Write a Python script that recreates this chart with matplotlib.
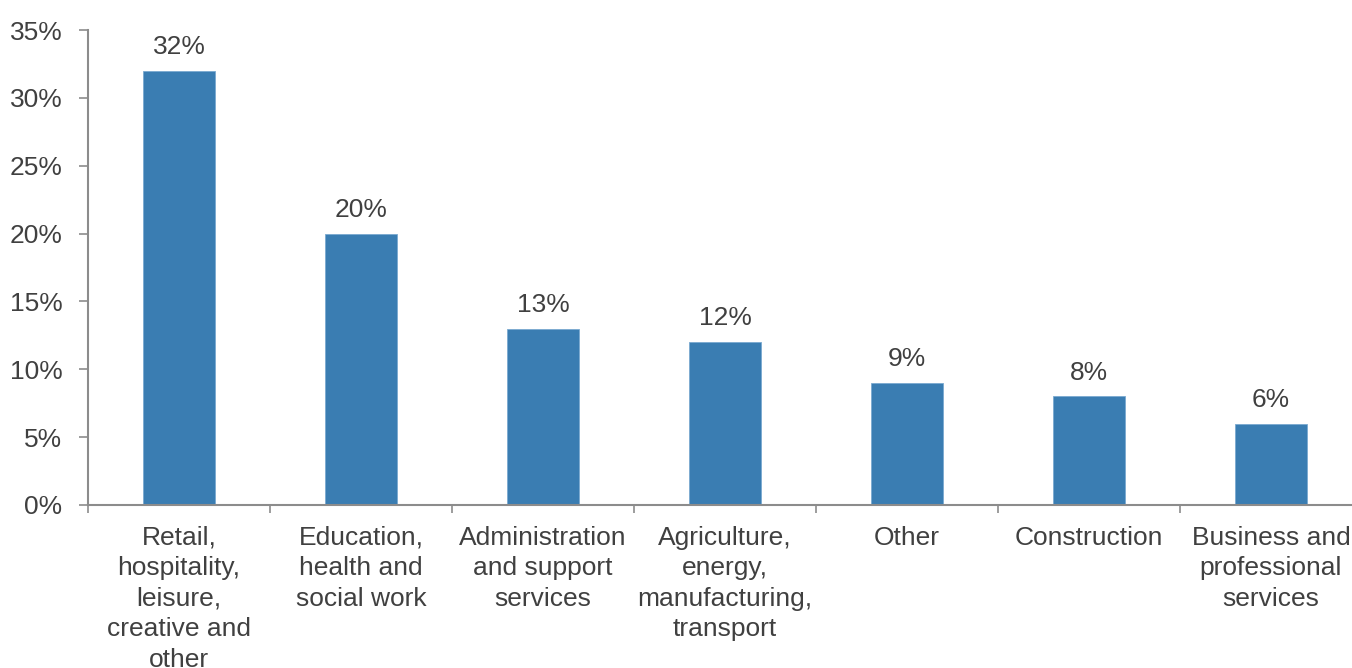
import numpy as np
import matplotlib.pyplot as plt

sectors = [
    "Retail,\nhospitality,\nleisure,\ncreative and\nother",
    "Education,\nhealth and\nsocial work",
    "Administration\nand support\nservices",
    "Agriculture,\nenergy,\nmanufacturing,\ntransport",
    "Other",
    "Construction",
    "Business and\nprofessional\nservices",
]
shares = [32, 20, 13, 12, 9, 8, 6]
y_ticks = [0, 5, 10, 15, 20, 25, 30, 35]

bar_color = "#3a7db2"
text_color = "#404040"
axis_color = "#8c8c8c"

plt.rcParams["font.family"] = ["Liberation Sans", "DejaVu Sans"]

fig = plt.figure(figsize=(13.52, 6.68), dpi=100)
ax = fig.add_axes([88 / 1352, 1 - 505 / 668, 1274 / 1352, 475 / 668])

x = np.arange(len(sectors))
bars = ax.bar(x, shares, width=0.4, color=bar_color, edgecolor="#7aa9d0", linewidth=0.6)

for xi, v in zip(x, shares):
    ax.annotate(f"{v}%", (xi, v), xytext=(0, 8.5), textcoords="offset points",
                ha="center", va="bottom", fontsize=19, color=text_color)

ax.set_xlim(-0.5, len(sectors) - 0.5)
ax.set_ylim(0, 35)
ax.set_yticks(y_ticks)
ax.set_yticklabels([f"{t}%" for t in y_ticks])

# category labels centred under bars, tick marks on the boundaries
ax.set_xticks(x)
ax.set_xticklabels(sectors, linespacing=1.34)
ax.set_xticks(np.arange(-0.5, len(sectors), 1), minor=True)
ax.tick_params(axis="x", which="major", length=0, pad=15, labelsize=19, labelcolor=text_color)
ax.tick_params(axis="x", which="minor", length=6, width=1.2, color=axis_color, direction="out")
ax.tick_params(axis="y", length=6.5, width=1.2, color=axis_color, pad=12, labelsize=19, labelcolor=text_color)

for side in ["top", "right"]:
    ax.spines[side].set_visible(False)
for side in ["left", "bottom"]:
    ax.spines[side].set_color(axis_color)
    ax.spines[side].set_linewidth(1.5)

fig.savefig("out.png", dpi=100)
